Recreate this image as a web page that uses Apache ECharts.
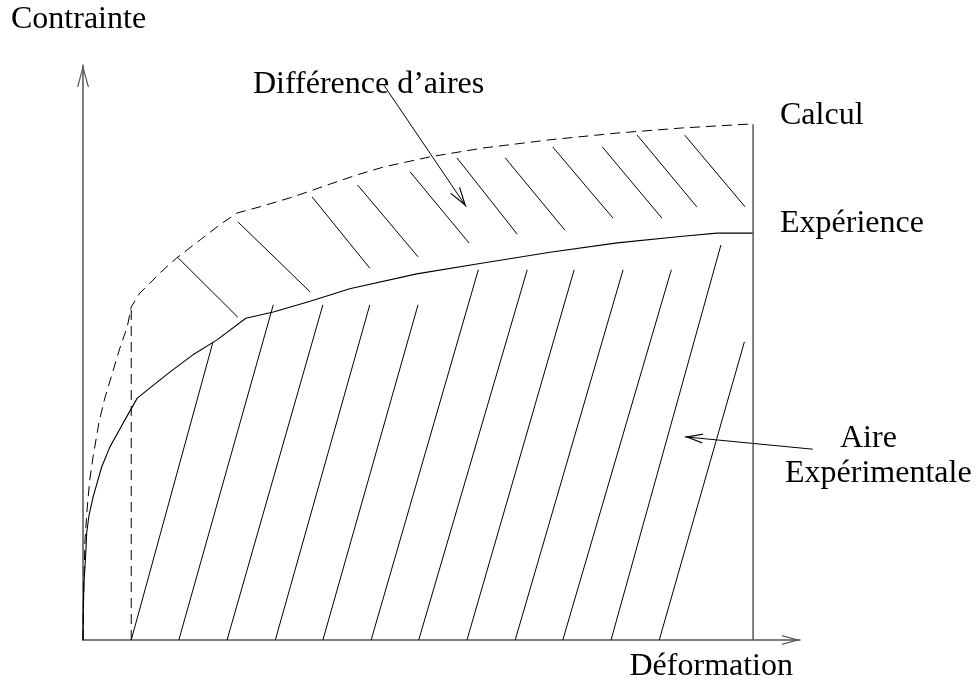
<!DOCTYPE html>
<html>
<head>
<meta charset="utf-8">
<script src="https://cdn.jsdelivr.net/npm/echarts@6/dist/echarts.min.js"></script>
<style>
  html, body { margin: 0; padding: 0; background: #fff; }
  #chart { width: 976px; height: 685px; }
</style>
</head>
<body>
<div id="chart"></div>
<script>
// Schematic stress–strain diagram: computed curve (dashed) against
// the experimental curve (solid), with the two areas hatched.

// Axis ranges (arbitrary units; 100 = end of the test)
const xMax = 107;
const yMax = 111.5;

// Computed curve "Calcul" [strain, stress]
const calculCurve = [
  [0, 0], [0.1, 9.7], [0.3, 19.4], [0.6, 25.2], [1.0, 31.0], [1.5, 35.5],
  [2.4, 42.3], [3.3, 47.1], [4.3, 51.4], [5.5, 56.6], [6.6, 60.7], [7.2, 64.6],
  [8.5, 67.3], [10.0, 69.2], [11.5, 71.2], [14.0, 74.1], [17.5, 77.6],
  [20.4, 80.5], [23.0, 82.8], [26.4, 84.0], [31.3, 85.9], [36.4, 88.2],
  [40.9, 90.2], [44.8, 91.7], [51.8, 93.7], [59.7, 95.4], [69.7, 97.0],
  [79.7, 98.3], [89.5, 99.3], [98.8, 100], [100, 100]
];

// Measured curve "Expérience" [strain, stress]
const experienceCurve = [
  [0, 0], [0.04, 5.8], [0.15, 11.1], [0.4, 16.5], [0.55, 20.8], [0.9, 24.2],
  [1.5, 27.7], [2.8, 33.6], [4.0, 37.4], [6.0, 42.1], [8.1, 46.9],
  [10.0, 48.9], [13.0, 52.0], [16.4, 55.3], [20.0, 58.2], [24.3, 62.4],
  [28.4, 63.6], [33.9, 65.7], [39.8, 68.1], [49.8, 71.0], [59.7, 73.1],
  [69.7, 75.2], [79.7, 77.0], [89.5, 78.3], [94.6, 78.9], [100, 78.9]
];

// Dashed vertical at the end of the elastic part of the computed curve
const elasticLimit = [[7.2, 0], [7.2, 64.6]];
// Final strain of the test
const strainLimit = [[100, 0], [100, 100]];

// Hatching under the experimental curve [x1, y1, x2, y2]
const lowerHatch = [
  [7.2, 0, 19.4, 57.8],
  [14.3, 0, 28.4, 65.0],
  [21.5, 0, 35.8, 65.0],
  [28.7, 0, 42.8, 65.0],
  [35.8, 0, 50.0, 65.0],
  [43.0, 0, 59.0, 71.8],
  [50.1, 0, 66.3, 71.8],
  [57.3, 0, 73.3, 71.8],
  [64.5, 0, 80.6, 71.8],
  [71.6, 0, 87.8, 71.8],
  [78.8, 0, 95.2, 76.6],
  [86.0, 0, 98.7, 57.8]
];

// Hatching between the two curves [x1, y1, x2, y2]
const upperHatch = [
  [14.2, 74.1, 23.1, 62.6],
  [23.1, 81.1, 33.9, 67.5],
  [34.2, 85.9, 42.8, 72.1],
  [41.0, 88.2, 50.0, 74.3],
  [48.8, 90.8, 57.6, 77.0],
  [55.8, 93.5, 64.8, 78.7],
  [63.0, 93.5, 71.9, 79.5],
  [70.1, 95.6, 79.1, 81.8],
  [77.5, 95.6, 86.4, 81.8],
  [82.7, 97.9, 91.6, 84.0],
  [89.8, 97.9, 98.8, 84.0]
];

// Annotation arrows [x1, y1, x2, y2], tip at the second point
const arrowDifference = [44.9, 107.6, 57.2, 84.0];
const arrowAire = [108.9, 37.0, 89.8, 39.4];

const FONT = '"Liberation Serif", "Times New Roman", serif';
const AXIS_COLOR = '#555';

// Open arrowhead whose tip sits at the centre of a square box of side 2L
function chevron(L, W, t) {
  const d = t * Math.sqrt(W * W + L * L) / L;
  const h = d * L / W;
  const S = 2 * L;
  const f = v => +v.toFixed(3);
  return 'path://' +
    'M0,0L0.01,0L0,0.01Z' +
    'M' + S + ',0L' + f(S - 0.01) + ',0L' + S + ',0.01Z' +
    'M' + L + ',' + L +
    'L' + (L + W) + ',' + S +
    'L' + f(L + W - d) + ',' + S +
    'L' + L + ',' + f(L + h) +
    'L' + f(L - W + d) + ',' + S +
    'L' + (L - W) + ',' + S + 'Z';
}

const seg = s => ({ coords: [[s[0], s[1]], [s[2], s[3]]] });

function label(text, x, y, align) {
  return {
    type: 'text', x: x, y: y, silent: true,
    style: { text: text, font: '32px ' + FONT, fill: '#000', align: align || 'left', verticalAlign: 'middle' }
  };
}

const chart = echarts.init(document.getElementById('chart'), null, { renderer: 'canvas' });

chart.setOption({
  animation: false,
  backgroundColor: '#fff',
  grid: { left: 83, top: 65, right: 176, bottom: 45, containLabel: false },
  xAxis: {
    type: 'value', min: 0, max: xMax,
    axisLine: {
      show: true, onZero: false,
      symbol: ['none', chevron(18, 5, 1.2)], symbolSize: [36, 36],
      lineStyle: { color: AXIS_COLOR, width: 1.5 }
    },
    axisTick: { show: false }, axisLabel: { show: false }, splitLine: { show: false }
  },
  yAxis: {
    type: 'value', min: 0, max: yMax,
    axisLine: {
      show: true, onZero: false,
      symbol: ['none', chevron(22, 6, 1.2)], symbolSize: [44, 44],
      lineStyle: { color: AXIS_COLOR, width: 1.5 }
    },
    axisTick: { show: false }, axisLabel: { show: false }, splitLine: { show: false }
  },
  series: [
    {
      name: 'Calcul', type: 'line', data: calculCurve,
      symbol: 'none', silent: true,
      lineStyle: { color: '#000', width: 1, type: [10, 6] }
    },
    {
      name: 'Limite élastique', type: 'line', data: elasticLimit,
      symbol: 'none', silent: true,
      lineStyle: { color: '#000', width: 1, type: [10, 6] }
    },
    {
      name: 'Expérience', type: 'line', data: experienceCurve,
      symbol: 'none', silent: true,
      lineStyle: { color: '#000', width: 1.1 }
    },
    {
      name: 'Déformation finale', type: 'line', data: strainLimit,
      symbol: 'none', silent: true,
      lineStyle: { color: AXIS_COLOR, width: 1.5 }
    },
    {
      name: 'Hachures', type: 'lines', coordinateSystem: 'cartesian2d',
      silent: true, clip: false,
      lineStyle: { color: '#000', width: 1, opacity: 1 },
      data: lowerHatch.concat(upperHatch).map(seg)
    },
    {
      name: 'Flèche différence', type: 'lines', coordinateSystem: 'cartesian2d',
      silent: true, clip: false,
      symbol: ['none', chevron(20, 6, 1.2)], symbolSize: 40,
      lineStyle: { color: '#000', width: 1, opacity: 1 },
      data: [seg(arrowDifference)]
    },
    {
      name: 'Flèche aire', type: 'lines', coordinateSystem: 'cartesian2d',
      silent: true, clip: false,
      symbol: ['none', chevron(18, 5, 1.2)], symbolSize: 36,
      lineStyle: { color: '#000', width: 1, opacity: 1 },
      data: [seg(arrowAire)]
    }
  ],
  graphic: [
    label('Contrainte', 11, 20),
    label('Déformation', 793, 667, 'right'),
    label('Différence d’aires', 253, 85),
    label('Calcul', 780, 116),
    label('Expérience', 780, 224),
    label('Aire', 840, 439),
    label('Expérimentale', 785, 474)
  ]
});
</script>
</body>
</html>
